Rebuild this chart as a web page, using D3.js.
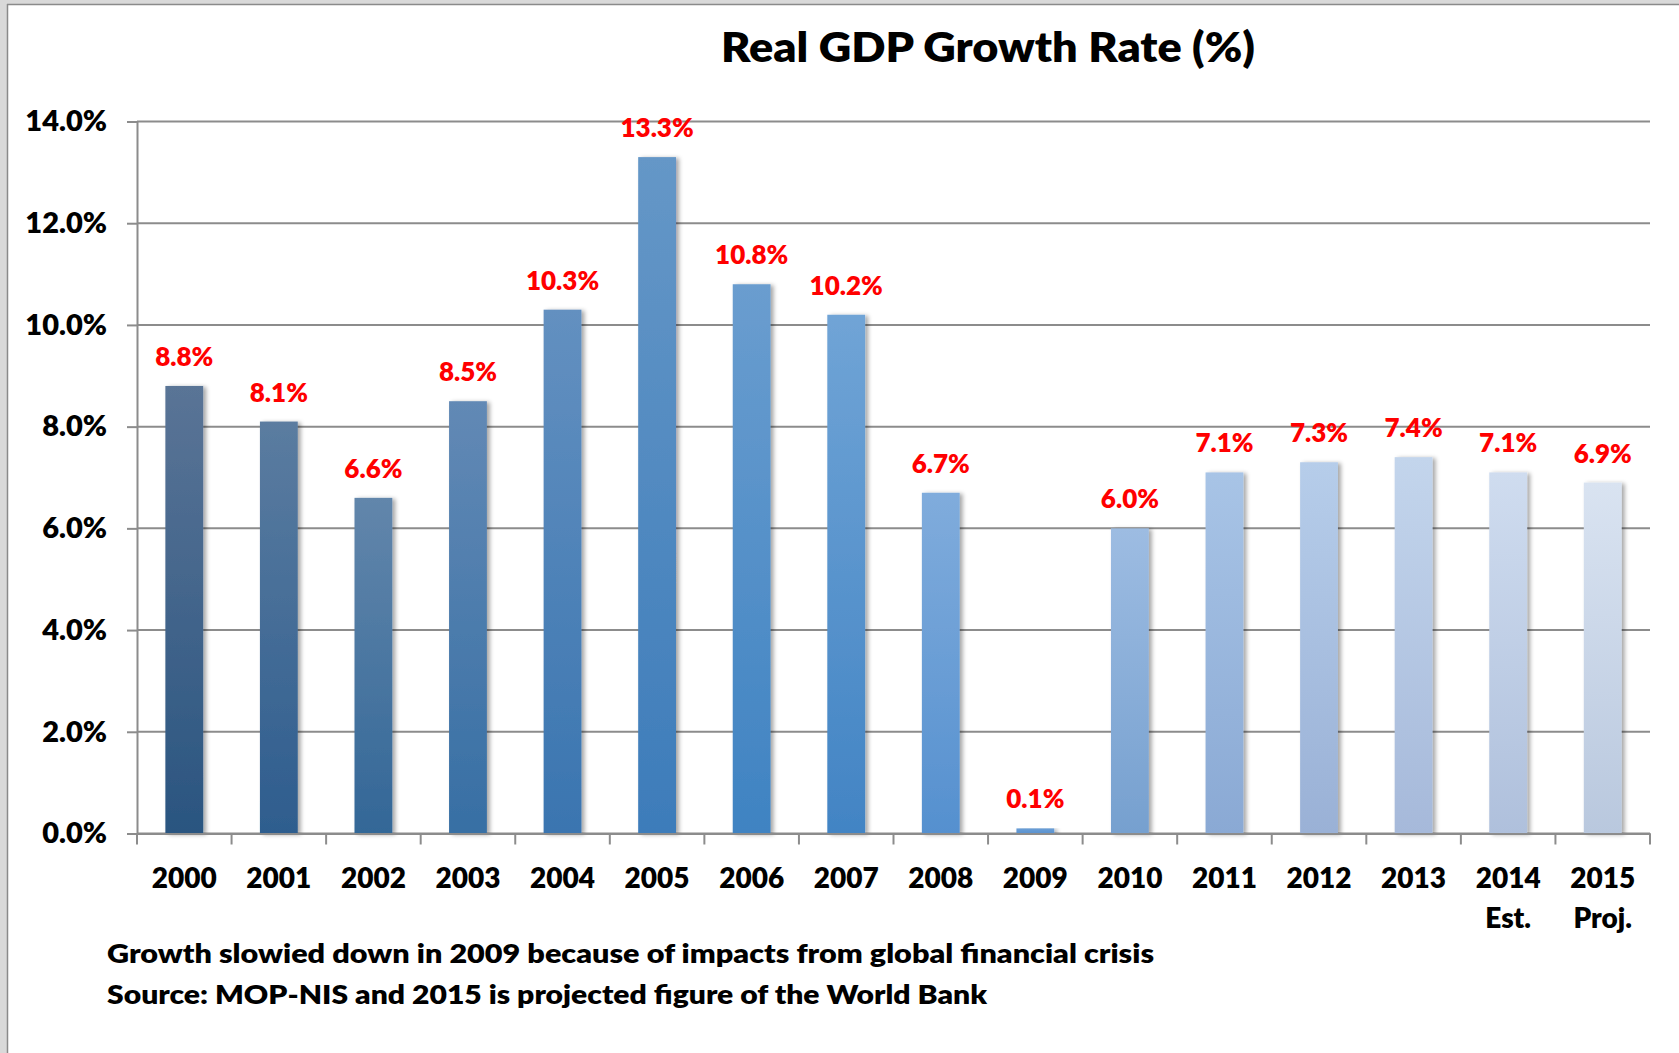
<!DOCTYPE html>
<html>
<head>
<meta charset="utf-8">
<script src="https://cdn.jsdelivr.net/npm/d3@7"></script>
<style>
  html, body { margin: 0; padding: 0; background: #ffffff; }
  svg { display: block; }
  text { font-family: Lato, "Open Sans", "Liberation Sans", sans-serif; font-weight: 800; }
</style>
</head>
<body>
<svg id="chart" width="1679" height="1053"></svg>
<script>
// ---- data ----
const years = ["2000","2001","2002","2003","2004","2005","2006","2007","2008","2009","2010","2011","2012","2013","2014","2015"];
const subLabels = ["","","","","","","","","","","","","","","Est.","Proj."];
const growth = [8.8, 8.1, 6.6, 8.5, 10.3, 13.3, 10.8, 10.2, 6.7, 0.1, 6.0, 7.1, 7.3, 7.4, 7.1, 6.9];
const yTicks = [0, 2, 4, 6, 8, 10, 12, 14];
const titleText = "Real GDP Growth Rate (%)";
const noteLines = [
  "Growth slowied down in 2009 because of impacts from global financial crisis",
  "Source: MOP-NIS and 2015 is projected figure of the World Bank"
];
// bar gradient colours (top, bottom)
const barTop    = ["#5a7496","#5b7ca0","#6286ab","#6289b5","#6390c0","#6597c7","#6a9dcf","#70a4d6","#80acdc","#6a9ed6","#9dbce2","#a8c4e6","#b6cdea","#c3d5ec","#cfdcef","#d9e3f1"];
const barBottom = ["#2a5580","#2e5d8e","#336797","#376fa4","#3a75b0","#3d7cba","#3f83c2","#4284c4","#5590cf","#5a92cf","#76a0cf","#8aa9d4","#9ab1d6","#a6b9da","#afc0dc","#b9c8de"];

// ---- layout ----
const svg = d3.select("#chart");
const W = 1679, H = 1053;
const plot = { left: 137, right: 1650, top: 121.5, bottom: 833.5 };
const gridColor = "#8c8c8c";
const FONT = "Lato, 'Open Sans', sans-serif";

// frame
svg.append("rect").attr("x", 0).attr("y", 0).attr("width", W).attr("height", H).attr("fill", "#ffffff");
svg.append("rect").attr("x", 0).attr("y", 0).attr("width", W).attr("height", 4).attr("fill", "#d9d9d9");
svg.append("rect").attr("x", 0).attr("y", 0).attr("width", 7).attr("height", H).attr("fill", "#d9d9d9");
svg.append("line").attr("x1", 7).attr("x2", W).attr("y1", 4.5).attr("y2", 4.5).attr("stroke", "#8a8a8a").attr("stroke-width", 1.5);
svg.append("line").attr("x1", 7.5).attr("x2", 7.5).attr("y1", 4).attr("y2", H).attr("stroke", "#8a8a8a").attr("stroke-width", 1.5);

// scales
const x = d3.scaleBand().domain(years).range([plot.left, plot.right]).paddingInner(0.6).paddingOuter(0.3);
const y = d3.scaleLinear().domain([0, 14]).range([plot.bottom, plot.top]);

// defs: gradients & shadow
const defs = svg.append("defs");
years.forEach((yr, i) => {
  const g = defs.append("linearGradient").attr("id", "grad" + i)
    .attr("x1", 0).attr("y1", 0).attr("x2", 0).attr("y2", 1);
  g.append("stop").attr("offset", "0%").attr("stop-color", barTop[i]);
  g.append("stop").attr("offset", "100%").attr("stop-color", barBottom[i]);
});
const f = defs.append("filter").attr("id", "shadow").attr("x", "-30%").attr("y", "-5%").attr("width", "160%").attr("height", "110%");
f.append("feDropShadow").attr("dx", 3).attr("dy", 1).attr("stdDeviation", 2.2)
  .attr("flood-color", "#000").attr("flood-opacity", 0.35);

// gridlines
svg.append("g").selectAll("line").data(yTicks).join("line")
  .attr("x1", plot.left).attr("x2", plot.right)
  .attr("y1", d => y(d)).attr("y2", d => y(d))
  .attr("stroke", gridColor).attr("stroke-width", 2);

// y axis
const yAxis = svg.append("g").attr("transform", `translate(${plot.left},0)`)
  .call(d3.axisLeft(y).tickValues(yTicks).tickSize(10).tickPadding(20).tickFormat(d => d3.format(".1f")(d) + "%"));
yAxis.select(".domain").attr("stroke", gridColor).attr("stroke-width", 2);
yAxis.selectAll(".tick line").attr("stroke", gridColor).attr("stroke-width", 2);
yAxis.selectAll(".tick text").attr("fill", "#000").style("font-size", "29px")
  .style("font-family", FONT).style("font-weight", 800);

// bars
svg.append("g").selectAll("rect").data(growth).join("rect")
  .attr("x", (d, i) => x(years[i]))
  .attr("width", x.bandwidth())
  .attr("y", d => y(d))
  .attr("height", d => y(0) - y(d))
  .attr("fill", (d, i) => `url(#grad${i})`)
  .attr("filter", "url(#shadow)");

// x axis
const xAxis = svg.append("g").attr("transform", `translate(0,${plot.bottom})`)
  .call(d3.axisBottom(x).tickSizeInner(0).tickSizeOuter(0).tickPadding(0));
xAxis.select(".domain").attr("stroke", gridColor).attr("stroke-width", 2);
xAxis.selectAll(".tick text")
  .attr("y", 0).attr("dy", null)
  .attr("fill", "#000").style("font-size", "28px")
  .style("font-family", FONT).style("font-weight", 800)
  .text(null)
  .each(function(d, i) {
    const t = d3.select(this);
    t.append("tspan").attr("x", 0).attr("y", 54.5).text(d);
    if (subLabels[i]) t.append("tspan").attr("x", 0).attr("y", 94.5).text(subLabels[i]);
  });
// category boundary ticks
const bounds = d3.range(years.length + 1).map(i => x.range()[0] + i * x.step());
svg.append("g").selectAll("line").data(bounds).join("line")
  .attr("x1", d => d).attr("x2", d => d)
  .attr("y1", plot.bottom).attr("y2", plot.bottom + 11)
  .attr("stroke", gridColor).attr("stroke-width", 2);

// value labels
svg.append("g").selectAll("text").data(growth).join("text")
  .attr("x", (d, i) => x(years[i]) + x.bandwidth() / 2)
  .attr("y", d => y(d) - 20)
  .attr("text-anchor", "middle")
  .attr("fill", "#ff0000")
  .style("font-size", "26px")
  .text(d => d3.format(".1f")(d) + "%");

// title
svg.append("text").attr("x", 988).attr("y", 62).attr("text-anchor", "middle")
  .style("font-size", "42px").attr("fill", "#000")
  .attr("textLength", 534).attr("lengthAdjust", "spacingAndGlyphs")
  .text(titleText);

// notes
const noteWidths = [1047, 880];
svg.append("g").selectAll("text").data(noteLines).join("text")
  .attr("x", 107).attr("y", (d, i) => 963 + i * 41)
  .style("font-size", "27px").attr("fill", "#000")
  .attr("textLength", (d, i) => noteWidths[i]).attr("lengthAdjust", "spacingAndGlyphs")
  .text(d => d);
</script>
</body>
</html>
